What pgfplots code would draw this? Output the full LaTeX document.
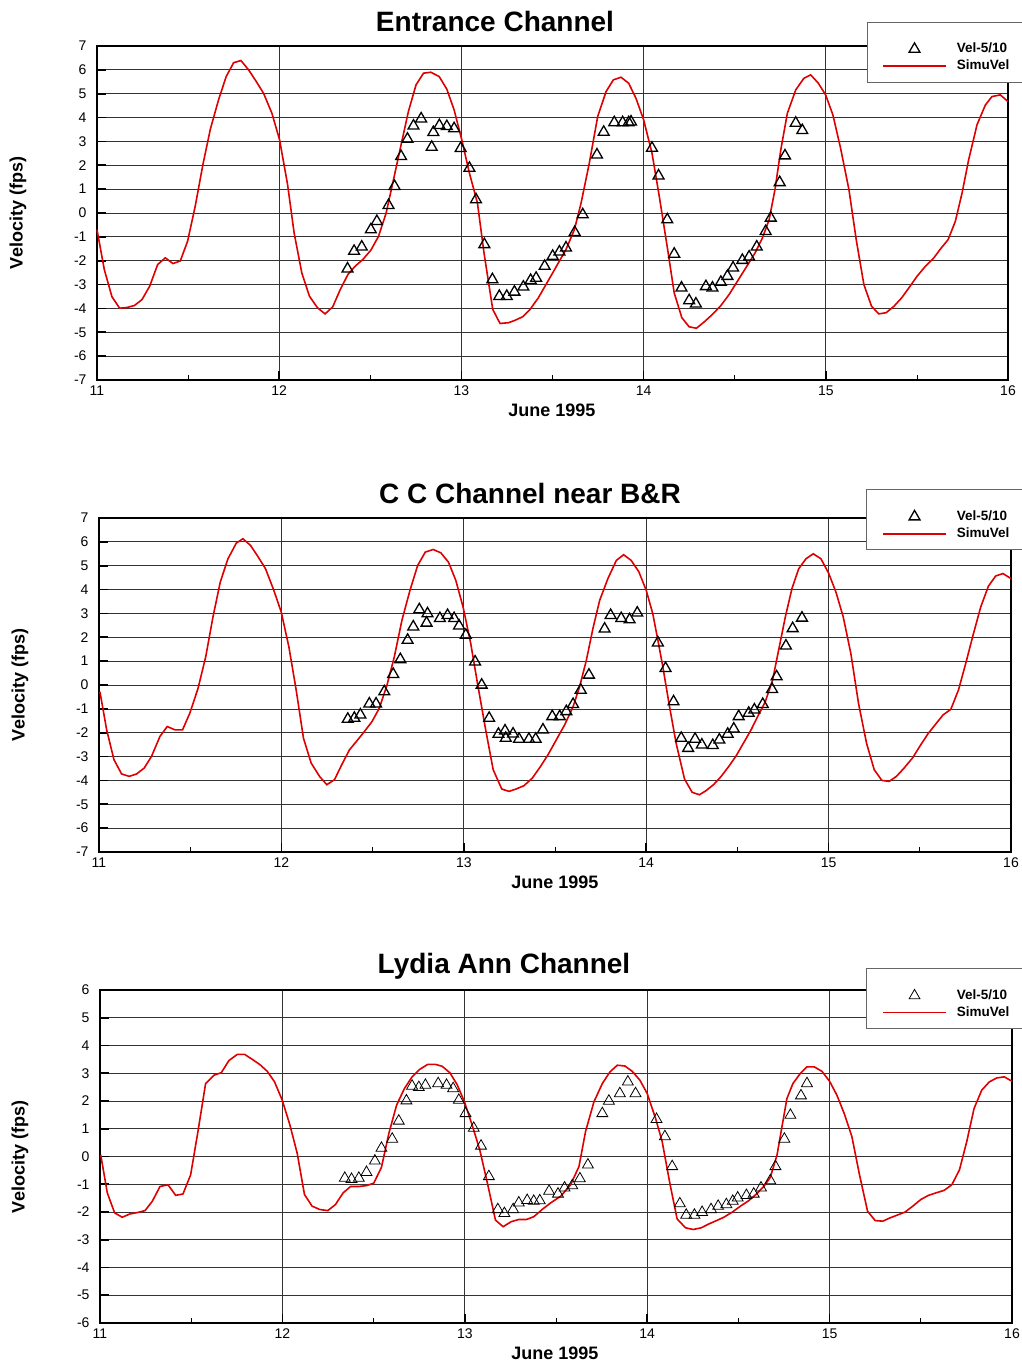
\documentclass[border=0pt]{standalone}
\usepackage{fontspec}
\setmainfont{Liberation Sans}
\usepackage{pgfplots}
\pgfplotsset{compat=1.18}
\definecolor{simred}{RGB}{222,0,0}
\pgfplotsset{
  myaxis/.style={
    scale only axis,
    xmin=11, xmax=16,
    xtick={11,12,13,14,15,16},
    minor xtick={11.5,12.5,13.5,14.5,15.5},
    grid=major,
    major grid style={black!80, line width=0.7pt},
    tick align=inside,
    tick pos=left,
    axis line style={line width=1.6pt},
    major tick length=9pt,
    minor tick length=5pt,
    every major tick/.append style={line width=1.6pt, black},
    every minor tick/.append style={line width=0.8pt, black},
    ticklabel style={font=\fontsize{14}{16}\selectfont},
    yticklabel style={xshift=-7pt},
    xticklabel style={yshift=-2pt},
    /pgf/number format/assume math mode=true,
    clip=false,
    legend cell align=left,
    legend style={draw=none, fill=none, anchor=north west, inner sep=0pt,
      column sep=10pt, row sep=4pt,
      font=\fontsize{13.5}{15}\selectfont\bfseries,
      nodes={inner sep=0pt, text height=10pt, text depth=3pt}},
  },
  obsleg/.style={legend image code/.code={\draw[mark repeat=2,mark phase=2,##1] plot coordinates {(0pt,0pt)(31.5pt,0pt)(63pt,0pt)};}},
  simleg/.style={legend image code/.code={\draw[##1] (0pt,0pt) -- (63pt,0pt);}},
}
\begin{document}
\begin{tikzpicture}[x=1pt,y=1pt]
\useasboundingbox (0,0) rectangle (1021,1366);
%% ---------------- Panel 1 ----------------
\begin{axis}[myaxis, at={(97pt,986pt)}, anchor=south west, width=911pt, height=334pt,
  ymin=-7, ymax=7, ytick={-7,-6,...,7},
  legend style={at={(rel axis cs:0.8617,1.0105)}}]
\addlegendimage{obsleg, only marks, mark=triangle, mark size=6.3pt, mark options={line width=1.3pt, black}}
\addlegendentry{Vel-5/10}
\addlegendimage{simleg, simred, line width=1.6pt}
\addlegendentry{SimuVel}
\addplot[forget plot, simred, line width=1.6pt] coordinates {
(11.0,-0.70)(11.04,-2.37)(11.082,-3.51)(11.124,-3.99)(11.165,-3.96)(11.205,-3.88)(11.247,-3.63)(11.289,-3.07)(11.333,-2.16)(11.375,-1.88)(11.417,-2.12)(11.457,-2.01)(11.497,-1.19)(11.539,0.28)(11.581,2.02)(11.622,3.51)(11.667,4.74)(11.709,5.72)(11.750,6.30)(11.790,6.39)(11.832,6.00)(11.874,5.51)(11.914,5.02)(11.960,4.18)(12.002,3.07)(12.046,1.19)(12.082,-0.84)(12.124,-2.51)(12.166,-3.49)(12.210,-3.97)(12.252,-4.23)(12.294,-3.93)(12.335,-3.21)(12.377,-2.58)(12.417,-2.23)(12.459,-1.95)(12.503,-1.56)(12.545,-0.98)(12.587,0.00)(12.627,1.39)(12.667,2.79)(12.709,4.25)(12.751,5.37)(12.792,5.86)(12.832,5.90)(12.878,5.72)(12.920,5.19)(12.960,4.32)(13.002,3.07)(13.044,1.67)(13.088,0.42)(13.124,-1.67)(13.172,-4.04)(13.212,-4.63)(13.258,-4.60)(13.294,-4.50)(13.336,-4.35)(13.377,-4.04)(13.422,-3.56)(13.501,-2.51)(13.574,-1.53)(13.620,-0.70)(13.657,0.42)(13.702,2.09)(13.748,4.04)(13.794,5.09)(13.834,5.58)(13.876,5.69)(13.918,5.44)(13.958,4.81)(14.000,3.91)(14.046,2.51)(14.086,0.70)(14.132,-1.53)(14.168,-3.35)(14.210,-4.39)(14.250,-4.77)(14.290,-4.83)(14.332,-4.57)(14.378,-4.25)(14.424,-3.88)(14.469,-3.42)(14.515,-2.86)(14.561,-2.30)(14.612,-1.67)(14.652,-1.05)(14.689,-0.28)(14.721,0.98)(14.753,2.65)(14.789,4.18)(14.835,5.16)(14.880,5.65)(14.917,5.79)(14.959,5.44)(14.999,4.95)(15.039,4.11)(15.081,2.72)(15.127,0.98)(15.167,-1.12)(15.209,-3.00)(15.251,-3.91)(15.291,-4.23)(15.331,-4.18)(15.374,-3.91)(15.416,-3.56)(15.456,-3.14)(15.501,-2.65)(15.547,-2.23)(15.593,-1.88)(15.629,-1.51)(15.671,-1.12)(15.711,-0.35)(15.748,0.84)(15.784,2.23)(15.830,3.70)(15.876,4.53)(15.912,4.88)(15.958,4.95)(16.000,4.67)
};
\addplot[forget plot, only marks, mark=triangle, mark size=6.3pt, mark options={line width=1.3pt, black}] coordinates {
(12.375,-2.34)(12.411,-1.60)(12.453,-1.42)(12.503,-0.70)(12.536,-0.35)(12.600,0.32)(12.633,1.12)(12.669,2.37)(12.704,3.10)(12.737,3.65)(12.779,3.95)(12.837,2.76)(12.846,3.38)(12.879,3.67)(12.920,3.63)(12.960,3.54)(12.996,2.71)(13.044,1.88)(13.080,0.56)(13.126,-1.32)(13.170,-2.79)(13.208,-3.49)(13.249,-3.49)(13.291,-3.31)(13.340,-3.10)(13.380,-2.82)(13.410,-2.73)(13.457,-2.23)(13.501,-1.81)(13.538,-1.63)(13.574,-1.46)(13.622,-0.81)(13.666,-0.07)(13.744,2.44)(13.781,3.39)(13.839,3.79)(13.885,3.79)(13.918,3.79)(13.931,3.82)(14.046,2.72)(14.082,1.56)(14.130,-0.28)(14.168,-1.72)(14.208,-3.14)(14.250,-3.67)(14.287,-3.81)(14.342,-3.08)(14.378,-3.14)(14.424,-2.90)(14.460,-2.65)(14.491,-2.30)(14.542,-1.98)(14.579,-1.84)(14.621,-1.42)(14.670,-0.77)(14.698,-0.21)(14.747,1.28)(14.776,2.40)(14.835,3.77)(14.871,3.46)
};
\draw[black!60, line width=0.8pt, fill=white] (rel axis cs:0.846,1.072) rectangle (rel axis cs:1.04,0.892);
\end{axis}
\node[font=\fontsize{28}{32}\selectfont\bfseries] at (495,1344) {Entrance Channel};
\node[font=\fontsize{18}{20}\selectfont\bfseries] at (552,956) {June 1995};
\node[font=\fontsize{18}{20}\selectfont\bfseries, rotate=90] at (18,1153) {Velocity (fps)};
%% ---------------- Panel 2 ----------------
\begin{axis}[myaxis, at={(99pt,514pt)}, anchor=south west, width=912pt, height=334pt,
  ymin=-7, ymax=7, ytick={-7,-6,...,7},
  legend style={at={(rel axis cs:0.8586,1.0239)}}]
\addlegendimage{obsleg, only marks, mark=triangle, mark size=6.3pt, mark options={line width=1.3pt, black}}
\addlegendentry{Vel-5/10}
\addlegendimage{simleg, simred, line width=1.6pt}
\addlegendentry{SimuVel}
\addplot[forget plot, simred, line width=1.6pt] coordinates {
(11.005,-0.28)(11.042,-1.88)(11.082,-3.13)(11.124,-3.73)(11.166,-3.83)(11.206,-3.73)(11.248,-3.48)(11.288,-2.99)(11.334,-2.16)(11.374,-1.74)(11.416,-1.88)(11.458,-1.88)(11.498,-1.18)(11.543,-0.14)(11.585,1.18)(11.625,2.86)(11.665,4.32)(11.707,5.29)(11.753,5.95)(11.789,6.13)(11.831,5.85)(11.871,5.39)(11.913,4.87)(11.957,4.00)(11.999,3.06)(12.041,1.60)(12.081,-0.21)(12.121,-2.23)(12.163,-3.27)(12.209,-3.83)(12.249,-4.18)(12.291,-3.97)(12.331,-3.34)(12.373,-2.72)(12.415,-2.33)(12.455,-1.95)(12.497,-1.53)(12.537,-0.97)(12.579,0.00)(12.619,1.18)(12.661,2.72)(12.705,3.97)(12.747,5.01)(12.789,5.57)(12.832,5.68)(12.874,5.54)(12.916,5.15)(12.956,4.39)(12.996,3.27)(13.038,1.74)(13.075,0.07)(13.120,-1.88)(13.161,-3.55)(13.208,-4.36)(13.248,-4.46)(13.290,-4.35)(13.330,-4.22)(13.376,-3.90)(13.421,-3.41)(13.462,-2.92)(13.507,-2.30)(13.553,-1.67)(13.599,-0.91)(13.635,-0.07)(13.672,1.04)(13.708,2.37)(13.745,3.55)(13.790,4.46)(13.836,5.22)(13.876,5.46)(13.918,5.22)(13.960,4.74)(14.000,3.97)(14.036,2.99)(14.064,1.88)(14.091,0.77)(14.128,-0.91)(14.164,-2.44)(14.210,-3.94)(14.252,-4.50)(14.292,-4.60)(14.328,-4.43)(14.369,-4.18)(14.411,-3.83)(14.453,-3.41)(14.493,-2.97)(14.533,-2.44)(14.575,-1.88)(14.611,-1.32)(14.653,-0.70)(14.693,0.21)(14.726,1.46)(14.763,2.86)(14.799,4.04)(14.836,4.87)(14.876,5.29)(14.916,5.50)(14.958,5.29)(15.000,4.69)(15.040,3.90)(15.080,2.86)(15.122,1.32)(15.164,-0.77)(15.208,-2.44)(15.250,-3.55)(15.292,-4.00)(15.332,-4.04)(15.372,-3.83)(15.414,-3.48)(15.460,-3.06)(15.505,-2.51)(15.547,-2.02)(15.591,-1.60)(15.628,-1.25)(15.670,-1.02)(15.712,-0.21)(15.752,0.91)(15.792,2.09)(15.834,3.27)(15.876,4.14)(15.916,4.57)(15.956,4.67)(16.000,4.46)
};
\addplot[forget plot, only marks, mark=triangle, mark size=6.3pt, mark options={line width=1.3pt, black}] coordinates {
(12.364,-1.43)(12.400,-1.39)(12.433,-1.25)(12.482,-0.79)(12.519,-0.79)(12.564,-0.28)(12.613,0.45)(12.652,1.07)(12.692,1.88)(12.723,2.44)(12.756,3.16)(12.796,2.60)(12.801,2.99)(12.869,2.79)(12.911,2.92)(12.947,2.79)(12.974,2.48)(13.011,2.09)(13.062,0.97)(13.098,0.00)(13.139,-1.39)(13.190,-2.06)(13.226,-1.92)(13.230,-2.23)(13.270,-2.05)(13.303,-2.27)(13.357,-2.27)(13.394,-2.27)(13.434,-1.88)(13.485,-1.32)(13.526,-1.32)(13.562,-1.11)(13.599,-0.81)(13.641,-0.21)(13.686,0.42)(13.772,2.35)(13.805,2.92)(13.863,2.79)(13.909,2.74)(13.951,3.02)(14.064,1.77)(14.106,0.70)(14.150,-0.70)(14.192,-2.23)(14.230,-2.65)(14.268,-2.27)(14.305,-2.51)(14.365,-2.53)(14.401,-2.30)(14.447,-2.06)(14.480,-1.84)(14.507,-1.32)(14.562,-1.18)(14.593,-1.04)(14.639,-0.81)(14.690,-0.18)(14.715,0.35)(14.766,1.64)(14.803,2.37)(14.854,2.81)
};
\draw[black!60, line width=0.8pt, fill=white] (rel axis cs:0.841,1.087) rectangle (rel axis cs:1.04,0.907);
\end{axis}
\node[font=\fontsize{28}{32}\selectfont\bfseries] at (530,872) {C C Channel near B\&R};
\node[font=\fontsize{18}{20}\selectfont\bfseries] at (555,484) {June 1995};
\node[font=\fontsize{18}{20}\selectfont\bfseries, rotate=90] at (20,681) {Velocity (fps)};
%% ---------------- Panel 3 ----------------
\begin{axis}[myaxis, at={(100pt,43pt)}, anchor=south west, width=912pt, height=333pt,
  ymin=-6, ymax=6, ytick={-6,-5,...,6},
  legend style={at={(rel axis cs:0.8575,1.0030)}}]
\addlegendimage{obsleg, only marks, mark=triangle, mark size=6.3pt, mark options={line width=0.8pt, black}}
\addlegendentry{Vel-5/10}
\addlegendimage{simleg, simred, line width=1.6pt}
\addlegendentry{SimuVel}
\addplot[forget plot, simred, line width=1.6pt] coordinates {
(11.004,0.06)(11.040,-1.31)(11.080,-2.03)(11.122,-2.19)(11.164,-2.07)(11.205,-2.02)(11.247,-1.95)(11.287,-1.61)(11.329,-1.08)(11.373,-1.02)(11.415,-1.40)(11.455,-1.35)(11.497,-0.66)(11.537,0.90)(11.579,2.63)(11.625,2.93)(11.665,3.02)(11.707,3.46)(11.753,3.68)(11.793,3.68)(11.835,3.50)(11.877,3.31)(11.917,3.07)(11.957,2.69)(11.999,2.03)(12.041,1.14)(12.081,0.12)(12.121,-1.37)(12.163,-1.79)(12.205,-1.91)(12.249,-1.95)(12.291,-1.73)(12.333,-1.31)(12.374,-1.08)(12.419,-1.08)(12.461,-1.05)(12.501,-0.96)(12.543,-0.39)(12.584,0.84)(12.626,1.85)(12.669,2.45)(12.711,2.87)(12.753,3.14)(12.797,3.32)(12.839,3.32)(12.876,3.25)(12.918,3.02)(12.958,2.59)(12.998,1.97)(13.040,1.14)(13.082,0.24)(13.126,-1.02)(13.168,-2.29)(13.210,-2.53)(13.254,-2.35)(13.296,-2.27)(13.338,-2.27)(13.378,-2.17)(13.424,-1.91)(13.471,-1.67)(13.526,-1.43)(13.580,-1.02)(13.626,-0.36)(13.662,0.90)(13.708,1.97)(13.754,2.63)(13.796,3.05)(13.836,3.29)(13.878,3.26)(13.918,3.07)(13.960,2.75)(14.000,2.27)(14.046,1.37)(14.082,0.54)(14.124,-0.96)(14.164,-2.25)(14.210,-2.57)(14.252,-2.63)(14.296,-2.57)(14.338,-2.43)(14.380,-2.31)(14.420,-2.19)(14.465,-2.01)(14.511,-1.79)(14.557,-1.59)(14.599,-1.35)(14.639,-1.08)(14.675,-0.75)(14.712,0.06)(14.739,1.08)(14.766,2.09)(14.799,2.63)(14.839,2.99)(14.876,3.23)(14.916,3.23)(14.958,3.07)(15.000,2.71)(15.040,2.21)(15.080,1.55)(15.122,0.72)(15.164,-0.66)(15.208,-1.97)(15.250,-2.31)(15.292,-2.33)(15.332,-2.21)(15.372,-2.11)(15.414,-2.00)(15.456,-1.79)(15.500,-1.55)(15.542,-1.40)(15.584,-1.31)(15.628,-1.22)(15.670,-1.02)(15.712,-0.48)(15.752,0.54)(15.792,1.73)(15.834,2.39)(15.876,2.69)(15.916,2.83)(15.958,2.87)(16.000,2.71)
};
\addplot[forget plot, only marks, mark=triangle, mark size=6.3pt, mark options={line width=0.8pt, black}] coordinates {
(12.342,-0.78)(12.379,-0.82)(12.419,-0.78)(12.461,-0.57)(12.507,-0.16)(12.543,0.30)(12.602,0.63)(12.638,1.28)(12.680,2.01)(12.711,2.54)(12.748,2.49)(12.784,2.57)(12.854,2.63)(12.900,2.57)(12.936,2.45)(12.967,2.03)(13.004,1.55)(13.049,1.02)(13.089,0.38)(13.132,-0.72)(13.181,-1.91)(13.217,-2.05)(13.265,-1.91)(13.296,-1.67)(13.342,-1.58)(13.378,-1.61)(13.411,-1.59)(13.462,-1.25)(13.511,-1.35)(13.547,-1.13)(13.589,-1.05)(13.631,-0.80)(13.675,-0.30)(13.754,1.55)(13.790,2.00)(13.850,2.27)(13.894,2.69)(13.936,2.27)(14.051,1.34)(14.097,0.72)(14.137,-0.36)(14.179,-1.70)(14.214,-2.11)(14.259,-2.11)(14.301,-2.01)(14.350,-1.91)(14.389,-1.79)(14.434,-1.73)(14.469,-1.61)(14.496,-1.49)(14.544,-1.40)(14.584,-1.35)(14.624,-1.13)(14.675,-0.87)(14.703,-0.36)(14.752,0.63)(14.785,1.49)(14.843,2.19)(14.876,2.63)
};
\draw[black!60, line width=0.8pt, fill=white] (rel axis cs:0.840,1.066) rectangle (rel axis cs:1.04,0.886);
\end{axis}
\node[font=\fontsize{28}{32}\selectfont\bfseries] at (504,400) {Lydia Ann Channel};
\node[font=\fontsize{18}{20}\selectfont\bfseries] at (555,13) {June 1995};
\node[font=\fontsize{18}{20}\selectfont\bfseries, rotate=90] at (20,209) {Velocity (fps)};
\end{tikzpicture}
\end{document}
